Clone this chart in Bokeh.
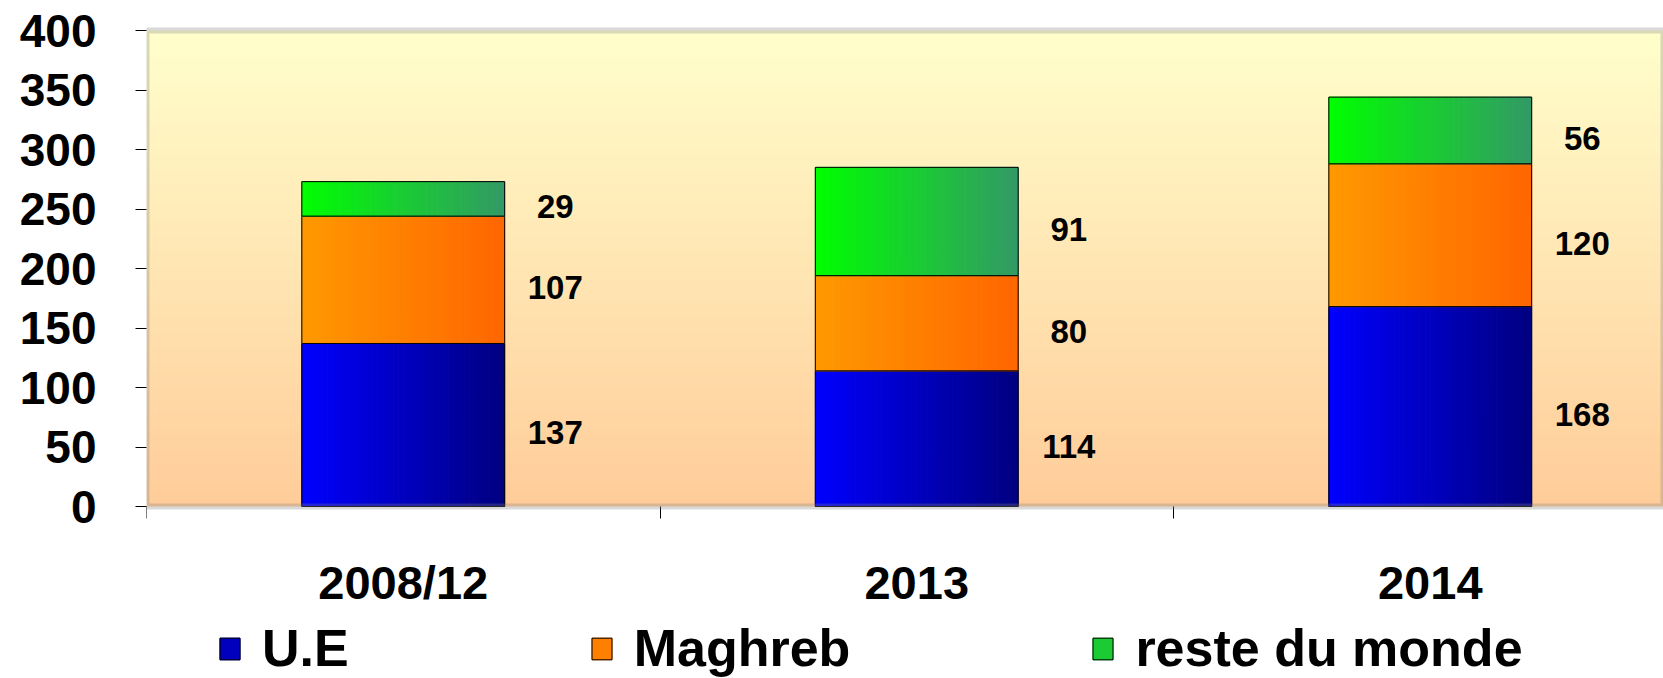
import numpy as np
from bokeh.plotting import figure
from bokeh.models import Range1d, FixedTicker, Legend, LegendItem, BoxAnnotation, ColumnDataSource
from bokeh.embed import file_html
from bokeh.resources import INLINE
from bokeh.core.properties import value

# ---------------- data ----------------
categories = ["2008/12", "2013", "2014"]
series_names = ["U.E", "Maghreb", "reste du monde"]
ue_values = [137, 114, 168]
maghreb_values = [107, 80, 120]
reste_values = [29, 91, 56]
y_tick_values = [0, 50, 100, 150, 200, 250, 300, 350, 400]

# ---------------- styles / layout ----------------
gradients = [("#0000FF", "#000080"), ("#FF9900", "#FF6600"), ("#00FF00", "#339966")]
BG_TOP, BG_BOTTOM = "#FFFFCC", "#FFCC99"
FONT = "Liberation Sans"
BAR_WIDTH = 0.395
N_STRIPS = 40
W, H = 1663, 678
AXIS_X_PX, AXIS_TOP_PX = 146, 30   # where the plot area's left / top edges sit
PAD_TOP_PX = 4                     # room so the grey top border is not clipped
CAT_PX = 513.5                     # pixels per category
PLOT_AREA_PX = 476                 # pixel height of the 0..400 area


def hex_to_rgb(h):
    h = h.lstrip("#")
    return tuple(int(h[i:i + 2], 16) for i in (0, 2, 4))


def mix(c1, c2, t):
    a, b = hex_to_rgb(c1), hex_to_rgb(c2)
    return "#%02x%02x%02x" % tuple(int(round(a[i] + (b[i] - a[i]) * t)) for i in range(3))


x_pos = [i + 0.5 for i in range(len(categories))]
y_lo, y_hi = y_tick_values[0], y_tick_values[-1]
units_per_px = (y_hi - y_lo) / PLOT_AREA_PX
frame_top = AXIS_TOP_PX - PAD_TOP_PX
y_end = y_hi + PAD_TOP_PX * units_per_px
y_start = y_hi - (H - AXIS_TOP_PX) * units_per_px
x_end = (W - AXIS_X_PX) / CAT_PX

p = figure(width=W, height=H,
           x_range=Range1d(0, x_end),
           y_range=Range1d(y_start, y_end),
           output_backend="svg", toolbar_location=None,
           min_border_left=AXIS_X_PX, min_border_right=0,
           min_border_top=frame_top, min_border_bottom=0)
p.background_fill_color = "white"
p.border_fill_color = "white"
p.outline_line_color = None
p.grid.visible = False

# plot-area background: vertical gradient bands between 0 and 400
n_bands = 80
step = (y_hi - y_lo) / n_bands
for k in range(n_bands):
    t = (k + 0.5) / n_bands
    p.add_layout(BoxAnnotation(bottom=y_lo + k * step, top=min(y_hi, y_lo + (k + 1.3) * step),
                               fill_color=mix(BG_BOTTOM, BG_TOP, t), fill_alpha=1,
                               line_color=None, level="underlay"))

# ---------------- stacked bars with horizontal gradient ----------------
values_by_series = [ue_values, maghreb_values, reste_values]
bottoms = [0] * len(categories)
legend_items = []
label_x, label_y, label_text = [], [], []
strip_w = BAR_WIDTH / N_STRIPS
order = [N_STRIPS // 2] + [k for k in range(N_STRIPS) if k != N_STRIPS // 2]
for s, vals in enumerate(values_by_series):
    tops = [b + v for b, v in zip(bottoms, vals)]
    xs, bs, ts, cs = [], [], [], []
    for k in order:
        col = mix(gradients[s][0], gradients[s][1], (k + 0.5) / N_STRIPS)
        for i in range(len(categories)):
            xs.append(x_pos[i] - BAR_WIDTH / 2 + (k + 0.5) * strip_w)
            bs.append(bottoms[i])
            ts.append(tops[i])
            cs.append(col)
    src = ColumnDataSource(dict(x=xs, bottom=bs, top=ts, color=cs))
    r_fill = p.vbar(x="x", width=strip_w, bottom="bottom", top="top",
                    fill_color="color", line_color="color", line_width=1, source=src)
    r_edge = p.vbar(x=x_pos, width=BAR_WIDTH, bottom=bottoms, top=tops,
                    fill_color=None, line_color="black", line_width=1)
    legend_items.append(LegendItem(label=series_names[s], renderers=[r_fill, r_edge], index=0))
    for i in range(len(categories)):
        label_x.append(x_pos[i])
        label_y.append(bottoms[i] + vals[i] / 2)
        label_text.append(str(vals[i]))
    bottoms = tops

p.text(x=label_x, y=label_y, text=label_text, x_offset=152, y_offset=8,
       text_font=value(FONT), text_font_style="bold", text_font_size="33px",
       text_align="center", text_baseline="middle", text_color="black")

# grey frame around the plot area
p.add_layout(BoxAnnotation(bottom=y_lo, top=y_hi, fill_color=None, fill_alpha=0,
                           line_color="#808080", line_width=6, level="annotation"))

# ---------------- axes ----------------
yax = p.yaxis[0]
yax.ticker = FixedTicker(ticks=y_tick_values)
yax.major_tick_out = 11
yax.major_tick_in = 0
yax.minor_tick_line_color = None
yax.major_tick_line_color = "black"
yax.axis_line_color = None
yax.major_label_standoff = 39
yax.major_label_text_font = FONT
yax.major_label_text_font_style = "bold"
yax.major_label_text_font_size = "46px"
yax.major_label_text_color = "black"

xax = p.xaxis[0]
xax.fixed_location = y_lo
xax.ticker = FixedTicker(ticks=x_pos, minor_ticks=list(range(len(categories) + 1)))
xax.major_label_overrides = {x: c for x, c in zip(x_pos, categories)}
xax.major_tick_line_color = None
xax.major_tick_out = 0
xax.major_tick_in = 0
xax.minor_tick_out = 12
xax.minor_tick_in = 0
xax.minor_tick_line_color = "black"
xax.axis_line_color = None
xax.major_label_standoff = 37
xax.major_label_text_font = FONT
xax.major_label_text_font_style = "bold"
xax.major_label_text_font_size = "47px"
xax.major_label_text_color = "black"

# ---------------- legend ----------------
legend = Legend(items=legend_items, orientation="horizontal", location=(71, 0),
                label_text_font=FONT, label_text_font_style="bold",
                label_text_font_size="52px", label_text_color="black",
                glyph_width=25, glyph_height=27, label_standoff=20, spacing=240,
                padding=0, margin=0, border_line_color=None, background_fill_alpha=0)
p.add_layout(legend, "center")

open("out.html", "w").write(file_html(p, INLINE))
